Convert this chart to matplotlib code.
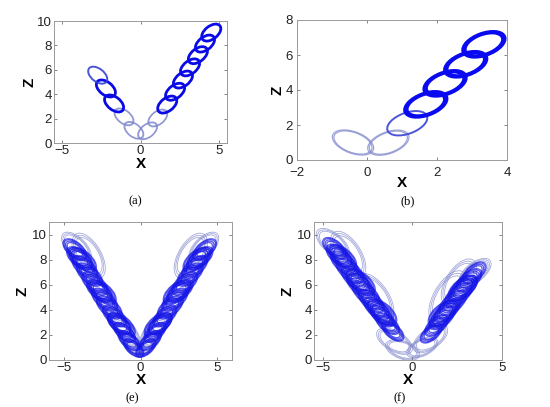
import matplotlib
matplotlib.use("Agg")
import matplotlib.pyplot as plt
from matplotlib.patches import Ellipse
from matplotlib.transforms import ScaledTranslation

# ---------------- data (loop centres) ----------------
# Panel (a)
a_right_x = [0.45, 1.10, 1.70, 2.20, 2.70, 3.15, 3.65, 4.10, 4.50]
a_right_z = [1.00, 2.05, 3.15, 4.20, 5.20, 6.20, 7.20, 8.15, 9.05]
a_right_tone = ["pale", "pale", "dark", "dark", "dark", "dark", "dark", "dark", "dark"]
a_left_x = [-0.42, -1.05, -1.68, -2.20, -2.72]
a_left_z = [1.04, 2.14, 3.24, 4.47, 5.56]
a_left_tone = ["pale", "pale", "dark", "dark", "mid"]

# Panel (b)
b_x = [-0.40, 0.61, 1.15, 1.68, 2.23, 2.82, 3.34]
b_z = [1.00, 0.99, 2.10, 3.18, 4.38, 5.47, 6.61]
b_tone = ["pale", "pale", "mid", "heavy", "heavy", "heavy", "heavy"]

# Panel (e)
e_left_x = [-0.45, -0.75, -1.05, -1.40, -1.70, -2.05, -2.35, -2.70, -3.00, -3.35, -3.65, -4.00, -4.30, -1.25, -2.50, -3.80]
e_left_z = [0.95, 1.55, 2.20, 2.90, 3.50, 4.20, 4.80, 5.50, 6.10, 6.80, 7.40, 8.10, 8.80, 2.80, 5.40, 8.00]
e_left_size = [22, 24, 24, 26, 26, 28, 28, 28, 28, 28, 28, 28, 26, 30, 30, 30]
e_right_x = [0.35, 0.65, 0.95, 1.30, 1.60, 1.95, 2.25, 2.60, 2.90, 3.25, 3.55, 3.90, 4.20, 1.15, 2.40, 3.70]
e_right_z = [0.95, 1.55, 2.20, 2.90, 3.50, 4.20, 4.80, 5.50, 6.10, 6.80, 7.40, 8.10, 8.80, 2.80, 5.40, 8.00]
e_right_size = [22, 24, 24, 26, 26, 28, 28, 28, 28, 28, 28, 28, 26, 30, 30, 30]
e_env_x = [-4.20, -3.40, -0.90, -0.55, 4.15, 3.30, 0.85, 0.50]
e_env_z = [9.00, 8.30, 2.20, 1.30, 9.00, 8.30, 2.20, 1.30]
e_env_size = [36, 48, 34, 28, 36, 48, 34, 28]
e_env_angle = [135, 120, 130, 140, 45, 60, 50, 40]

# Panel (f)
f_left_x = [-1.10, -1.40, -1.70, -2.00, -2.30, -2.60, -2.90, -3.20, -3.50, -3.80, -4.10, -4.35, -1.70, -2.90, -3.90]
f_left_z = [2.30, 2.90, 3.50, 4.10, 4.70, 5.30, 5.90, 6.50, 7.10, 7.70, 8.30, 8.90, 3.80, 6.20, 8.20]
f_left_size = [24, 26, 26, 28, 28, 30, 30, 30, 30, 30, 28, 26, 32, 32, 30]
f_right_x = [1.05, 1.35, 1.65, 1.95, 2.25, 2.55, 2.85, 3.15, 3.45, 1.70, 2.80]
f_right_z = [2.15, 2.75, 3.35, 3.95, 4.55, 5.15, 5.75, 6.35, 6.95, 3.70, 5.70]
f_right_size = [24, 26, 28, 28, 30, 30, 30, 28, 26, 32, 32]
f_env_x = [-4.45, -3.60, -2.10, -1.00, -0.55, 3.50, 2.60, 2.00, 1.00, 0.55]
f_env_z = [9.30, 8.40, 5.00, 1.50, 0.80, 7.00, 6.20, 5.00, 1.70, 1.00]
f_env_size = [38, 50, 52, 38, 34, 36, 50, 56, 38, 32]
f_env_angle = [140, 122, 124, 150, 160, 38, 58, 60, 35, 25]

TONES = {
    "pale":  dict(color="#7f86cc", lw=0.9, alpha=0.75, scales=(0.95, 1.03)),
    "mid":   dict(color="#3742d6", lw=1.4, alpha=0.9, scales=(1.0,)),
    "dark":  dict(color="#0a0ae6", lw=2.0, alpha=1.0, scales=(1.0,)),
    "heavy": dict(color="#0a0af0", lw=2.0, alpha=1.0, scales=(0.93, 1.0, 1.06)),
}
DENSE_SCALES = (0.72, 0.86, 1.0, 1.1)
DENSE_COLOR = "#1414e6"
PALE_COLOR = "#7f86cc"

fig = plt.figure(figsize=(5.5, 4.07), dpi=100)


def loop(ax, x, z, major, minor, angle, color, lw, alpha=1.0, scales=(1.0,)):
    for s in scales:
        tr = fig.dpi_scale_trans + ScaledTranslation(x, z, ax.transData)
        ax.add_patch(Ellipse((0, 0), major * s / 100.0, minor * s / 100.0,
                             angle=angle, fill=False, ec=color, lw=lw,
                             alpha=alpha, transform=tr))


def style(ax, xlim, ylim, xticks, yticks, xl_y, zl_x, xpad=1.5, ypad=1.5):
    ax.set_xlim(*xlim)
    ax.set_ylim(*ylim)
    ax.set_xticks(xticks)
    ax.set_yticks(yticks)
    ax.tick_params(direction="in", length=2.5, width=0.5, top=True, right=True,
                   labelsize=9.5, colors="#555555")
    ax.tick_params(axis="x", pad=xpad)
    ax.tick_params(axis="y", pad=ypad)
    for lab in ax.get_xticklabels() + ax.get_yticklabels():
        lab.set_fontfamily("Liberation Sans")
        lab.set_color("#222222")
    for sp in ax.spines.values():
        sp.set_color("#9a9a9a")
        sp.set_linewidth(0.7)
    ax.set_xlabel("X", fontsize=11, fontweight="bold", family="Liberation Sans")
    ax.set_ylabel("Z", fontsize=11, fontweight="bold", family="Liberation Sans")
    ax.xaxis.label.set_va("center")
    ax.yaxis.label.set_va("center")
    ax.xaxis.set_label_coords(0.5, xl_y)
    ax.yaxis.set_label_coords(zl_x, 0.5)


def dense(ax, xs, zs, sizes, angle):
    for x, z, s in zip(xs, zs, sizes):
        loop(ax, x, z, s, s * 0.52, angle, color=DENSE_COLOR, lw=0.9,
             alpha=0.7, scales=DENSE_SCALES)


def envelope(ax, xs, zs, sizes, angles):
    for x, z, s, a in zip(xs, zs, sizes, angles):
        loop(ax, x, z, s, s * 0.5, a, color=PALE_COLOR, lw=0.6, alpha=0.7,
             scales=(0.85, 0.95, 1.05))


# ---------------- (a) ----------------
ax_a = fig.add_axes([54 / 550, 1 - 143 / 407, 173 / 550, 122 / 407])
for x, z, t in zip(a_right_x, a_right_z, a_right_tone):
    loop(ax_a, x, z, 22, 13, 38, **TONES[t])
for x, z, t in zip(a_left_x, a_left_z, a_left_tone):
    loop(ax_a, x, z, 22, 13, 142, **TONES[t])
style(ax_a, (-5.5, 5.5), (0, 10), [-5, 0, 5], [0, 2, 4, 6, 8, 10], -0.17, -0.14)

# ---------------- (b) ----------------
ax_b = fig.add_axes([297 / 550, 1 - 160 / 407, 210 / 550, 140 / 407])
for i, (x, z, t) in enumerate(zip(b_x, b_z, b_tone)):
    ang = 160 if i == 0 else 20
    loop(ax_b, x, z, 42, 21, ang, **TONES[t])
style(ax_b, (-2, 4), (0, 8), [-2, 0, 2, 4], [0, 2, 4, 6, 8], -0.165, -0.095,
      xpad=5, ypad=3)

# ---------------- (e) ----------------
ax_e = fig.add_axes([49 / 550, 1 - 360 / 407, 183 / 550, 138 / 407])
envelope(ax_e, e_env_x, e_env_z, e_env_size, e_env_angle)
dense(ax_e, e_left_x, e_left_z, e_left_size, 140)
dense(ax_e, e_right_x, e_right_z, e_right_size, 40)
style(ax_e, (-6, 6), (0, 11), [-5, 0, 5], [0, 2, 4, 6, 8, 10], -0.145, -0.145)

# ---------------- (f) ----------------
ax_f = fig.add_axes([314 / 550, 1 - 360 / 407, 188 / 550, 138 / 407])
envelope(ax_f, f_env_x, f_env_z, f_env_size, f_env_angle)
dense(ax_f, f_left_x, f_left_z, f_left_size, 140)
dense(ax_f, f_right_x, f_right_z, f_right_size, 40)
style(ax_f, (-5.5, 5), (0, 11), [-5, 0, 5], [0, 2, 4, 6, 8, 10], -0.145, -0.14)

# ---------------- captions ----------------
for cx, cy, txt in [(135, 201, "(a)"), (408, 201, "(b)"), (132, 398, "(e)"), (400, 398, "(f)")]:
    fig.text(cx / 550, 1 - cy / 407, txt, ha="center", va="center",
             fontsize=9, family="Liberation Serif")

fig.savefig("out.png", dpi=100, facecolor="white")
